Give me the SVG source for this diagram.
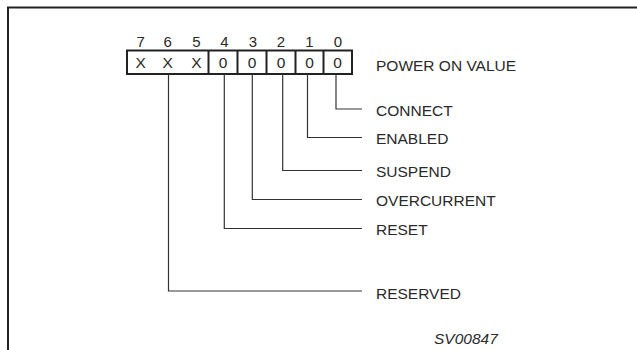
<svg xmlns="http://www.w3.org/2000/svg" width="637" height="350" viewBox="0 0 637 350">
<style>
text{font-family:"Liberation Sans",Arial,sans-serif;fill:#2a2a2a}
.bit{font-size:15px;text-anchor:middle}
.val{font-size:15.5px;text-anchor:middle}
.lbl{font-size:15.5px}
.frame{fill:none;stroke:#222;stroke-width:2}
.box{fill:#fff;stroke:#222;stroke-width:2}
.conn{fill:none;stroke:#333;stroke-width:1.2}
</style>
<rect width="637" height="350" fill="#fff"/>
<path class="frame" d="M8,350 V7.5 H637"/>
<g id="register">
<rect class="box" x="127" y="50.5" width="225" height="23.5"/>
<path class="box" d="M208.5,50.5 V74 M237.5,50.5 V74 M266.5,50.5 V74 M295.5,50.5 V74 M323.5,50.5 V74"/>
<text class="bit" x="140.7" y="47">7</text>
<text class="bit" x="167.7" y="47">6</text>
<text class="bit" x="196.5" y="47">5</text>
<text class="bit" x="224.3" y="47">4</text>
<text class="bit" x="253" y="47">3</text>
<text class="bit" x="281" y="47">2</text>
<text class="bit" x="309.3" y="47">1</text>
<text class="bit" x="338" y="47">0</text>
<text class="val" x="140.7" y="67.5">X</text>
<text class="val" x="167.7" y="67.5">X</text>
<text class="val" x="196.5" y="67.5">X</text>
<text class="val" x="223" y="67.5">0</text>
<text class="val" x="252" y="67.5">0</text>
<text class="val" x="281" y="67.5">0</text>
<text class="val" x="309.5" y="67.5">0</text>
<text class="val" x="337.5" y="67.5">0</text>
</g>
<g id="connectors">
<path class="conn" d="M336,74 V109 H362"/>
<path class="conn" d="M307.5,74 V137.5 H362"/>
<path class="conn" d="M282.7,74 V170.5 H362"/>
<path class="conn" d="M252.3,74 V199.5 H362"/>
<path class="conn" d="M224.3,74 V228.5 H362"/>
<path class="conn" d="M168.5,74 V291 H362"/>
</g>
<g id="power-on"><text class="lbl" x="376" y="71">POWER ON VALUE</text></g>
<g id="connect"><text class="lbl" x="376" y="115.5">CONNECT</text></g>
<g id="enabled"><text class="lbl" x="376" y="144">ENABLED</text></g>
<g id="suspend"><text class="lbl" x="376" y="177">SUSPEND</text></g>
<g id="overcurrent"><text class="lbl" x="376" y="206">OVERCURRENT</text></g>
<g id="reset"><text class="lbl" x="376" y="235">RESET</text></g>
<g id="reserved"><text class="lbl" x="376" y="299">RESERVED</text></g>
<g id="figid"><text class="lbl" x="434" y="344" font-style="italic">SV00847</text></g>
</svg>
